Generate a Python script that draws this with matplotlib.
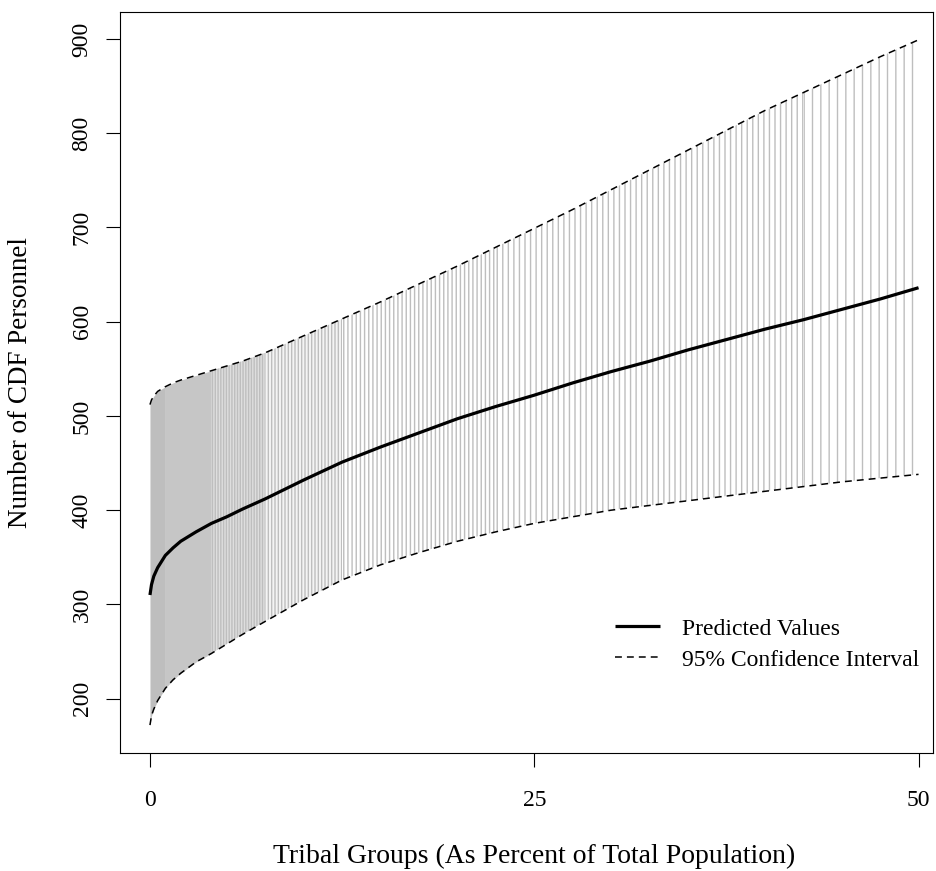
import matplotlib
matplotlib.use('Agg')
import matplotlib.pyplot as plt
import numpy as np

plt.rcParams['font.family'] = ['Liberation Serif', 'DejaVu Serif']
plt.rcParams['font.size'] = 17
plt.rcParams['hatch.linewidth'] = 1.0
plt.rcParams['hatch.color'] = '#bebebe'

# values
pct = [0, 0.1, 0.25, 0.5, 1, 1.5, 2, 3, 4, 5, 6, 7.5, 10, 12.5, 15, 17.5, 20,
       22.5, 25, 27.5, 30, 32.5, 35, 37.5, 40, 42.5, 45, 47.5, 50]
predicted = [310, 321, 330, 339, 352, 360, 367, 377, 386, 393, 401, 412, 432,
             451, 467, 482, 497, 510, 522, 535, 547, 558, 570, 581, 592, 602,
             613, 624, 636]
lower = [172, 182, 189, 198, 211, 220, 227, 239, 248, 258, 268, 282, 305, 326,
         342, 355, 367, 377, 386, 393, 400, 405, 410, 415, 420, 425, 430, 434,
         438]
upper = [512, 517, 521, 526, 531, 535, 538, 543, 548, 553, 558, 567, 585, 603,
         621, 640, 659, 679, 699, 719, 740, 761, 782, 803, 824, 843, 862, 881,
         899]

x_ticks = [0, 25, 50]
y_ticks = [200, 300, 400, 500, 600, 700, 800, 900]

x = np.array(pct)
lo = np.array(lower)
hi = np.array(upper)

W, H = 936, 871
fig = plt.figure(figsize=(W / 100, H / 100), dpi=100)
ax = fig.add_axes([120.3 / W, 1 - 752.7 / H, (933.3 - 120.3) / W, (752.7 - 12.3) / H])

# vertical CI lines get denser towards 0, so shade in pieces
pieces = [
    (0, 1, '#bebebe', None),
    (1, 4, '#c6c6c6', None),
    (4, 7.5, '#dedede', '||||||'),
    (7.5, 12.5, '#f4f4f4', '|||||'),
    (12.5, 22.5, 'white', '||||'),
    (22.5, 42.5, 'white', '|||'),
    (42.5, 50, 'white', '||'),
]
for a, b, fc, hatch in pieces:
    m = (x >= a) & (x <= b)
    ax.fill_between(x[m], lo[m], hi[m], facecolor=fc, edgecolor='#bebebe',
                    hatch=hatch, linewidth=0, zorder=1)

dash = (0, (4.5, 3.3))
ax.plot(x, lo, color='black', lw=1.1, ls=dash, zorder=3)
ax.plot(x, hi, color='black', lw=1.1, ls=dash, zorder=3)
ax.plot(x, predicted, color='black', lw=2.3, zorder=4,
        label='Predicted Values', solid_capstyle='butt')
ax.plot([], [], color='black', lw=1.1, ls=dash, label='95% Confidence Interval')

ax.set_xlim(-1.93, 50.96)
ax.set_ylim(142.7, 928.2)
ax.set_xticks(x_ticks)
ax.set_yticks(y_ticks)
ax.tick_params(direction='out', length=10, width=0.8, color='black')
ax.tick_params(axis='x', pad=17)
ax.tick_params(axis='y', pad=10)
plt.setp(ax.get_yticklabels(), rotation=90, va='center')
for s in ax.spines.values():
    s.set_linewidth(0.8)

fig.text(534 / W, 1 - 863 / H, 'Tribal Groups (As Percent of Total Population)',
         ha='center', va='baseline', fontsize=20)
fig.text(21 / W, 1 - 382.5 / H, 'Number of CDF Personnel',
         ha='center', va='center', rotation=90, fontsize=19.5)

ax.legend(loc='upper left', bbox_to_anchor=(615 / W, 1 - 618 / H),
          bbox_transform=fig.transFigure, frameon=False, borderpad=0,
          borderaxespad=0, handlelength=1.9, handletextpad=0.92,
          labelspacing=0.4)

fig.savefig('out.png', dpi=100)
